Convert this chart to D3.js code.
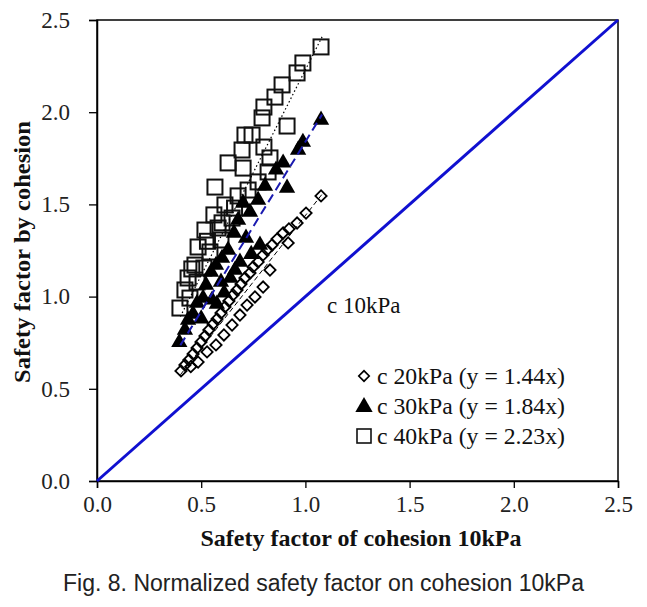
<!DOCTYPE html>
<html><head><meta charset="utf-8">
<script src="https://cdn.jsdelivr.net/npm/d3@7"></script>
<style>body{margin:0;background:#fff}svg{display:block}</style>
</head><body>
<svg id="c" width="647" height="607"></svg>
<script>
const xTicks = [0, 0.5, 1.0, 1.5, 2.0, 2.5];
const yTicks = [0, 0.5, 1.0, 1.5, 2.0, 2.5];
const seriesNames = ["c 20kPa (y = 1.44x)", "c 30kPa (y = 1.84x)", "c 40kPa (y = 2.23x)"];
const slopes = [1.44, 1.84, 2.23];
const fitRange = [0.40, 1.08];

const c20 = [
 [1.075,1.546],[1.003,1.453],[0.960,1.399],[0.921,1.367],[0.893,1.345],[0.864,1.312],[0.840,1.280],
 [0.816,1.253],[0.797,1.226],[0.773,1.188],[0.749,1.161],[0.734,1.128],[0.710,1.101],[0.691,1.068],
 [0.672,1.036],[0.653,1.009],[0.633,0.976],[0.614,0.944],[0.595,0.911],[0.576,0.879],[0.557,0.851],
 [0.537,0.819],[0.518,0.786],[0.499,0.754],[0.480,0.721],[0.461,0.689],[0.441,0.656],[0.422,0.629],
 [0.403,0.597],[0.917,1.291],[0.830,1.144],[0.797,1.052],[0.758,0.998],[0.720,0.954],[0.686,0.900],
 [0.648,0.846],[0.609,0.792],[0.571,0.738],[0.528,0.700],[0.485,0.645],[0.450,0.620]
];
const c30 = [
 [1.075,1.958],[0.988,1.838],[0.965,1.795],[0.893,1.725],[0.859,1.687],[0.912,1.589],[0.806,1.600],
 [0.773,1.524],[0.734,1.459],[0.701,1.508],[0.677,1.415],[0.715,1.318],[0.657,1.345],[0.629,1.253],
 [0.600,1.209],[0.571,1.171],[0.547,1.133],[0.595,1.079],[0.523,1.063],[0.509,0.992],[0.480,0.965],
 [0.552,0.982],[0.461,0.906],[0.437,0.873],[0.422,0.819],[0.395,0.752],[0.662,1.144],[0.686,1.188],
 [0.782,1.280],[0.640,1.100],[0.740,1.230],[0.610,1.020],[0.500,0.880],[0.575,0.960]
];
const c40 = [
 [1.075,2.354],[0.988,2.267],[0.960,2.213],[0.888,2.148],[0.854,2.082],[0.801,2.028],[0.792,1.969],
 [0.912,1.925],[0.744,1.876],[0.710,1.876],[0.696,1.795],[0.801,1.811],[0.629,1.725],[0.701,1.697],
 [0.830,1.752],[0.821,1.676],[0.773,1.622],[0.725,1.578],[0.566,1.594],[0.677,1.546],[0.614,1.497],
 [0.561,1.443],[0.648,1.426],[0.518,1.361],[0.581,1.372],[0.595,1.307],[0.485,1.269],[0.542,1.242],
 [0.470,1.171],[0.513,1.155],[0.437,1.101],[0.480,1.079],[0.422,1.036],[0.446,0.992],[0.398,0.938],
 [0.660,1.480],[0.600,1.400],[0.530,1.300],[0.455,1.150]
];

const svg = d3.select("#c");
const x = d3.scaleLinear().domain([0, 2.5]).range([97, 618]);
const y = d3.scaleLinear().domain([0, 2.5]).range([481, 20]);
const serif = "Liberation Serif, Times New Roman, serif";

// frame
svg.append("rect").attr("x", 97).attr("y", 20).attr("width", 521).attr("height", 461)
  .attr("fill", "none").attr("stroke", "#000").attr("stroke-width", 1.5);

const xa = svg.append("g").attr("transform", "translate(0,481)")
  .call(d3.axisBottom(x).tickValues(xTicks).tickFormat(d3.format(".1f")).tickSizeOuter(0).tickSize(7).tickPadding(8));
const ya = svg.append("g").attr("transform", "translate(97,0)")
  .call(d3.axisLeft(y).tickValues(yTicks).tickFormat(d3.format(".1f")).tickSizeOuter(0).tickSize(8).tickPadding(19));
[xa, ya].forEach(a => {
  a.attr("font-family", serif).attr("font-size", 23);
  a.select(".domain").attr("stroke", "#000").attr("stroke-width", 1.5);
  a.selectAll(".tick line").attr("stroke", "#000").attr("stroke-width", 1.3);
  a.selectAll("text").style("font-family", serif).style("font-size", "23px").attr("fill", "#222");
});

// 1:1 line
svg.append("line").attr("x1", x(0)).attr("y1", y(0)).attr("x2", x(2.5)).attr("y2", y(2.5))
  .attr("stroke", "#1010d0").attr("stroke-width", 3);

const diamond = d3.symbol().type(d3.symbolSquare).size(64);
const tri = d3.symbol().type(d3.symbolTriangle).size(115);

// c20 diamonds
svg.append("g").selectAll("path").data(c20).join("path")
  .attr("d", diamond).attr("transform", d => `translate(${x(d[0])},${y(d[1])}) rotate(45)`)
  .attr("fill", "none").attr("stroke", "#000").attr("stroke-width", 1.8);
// c40 squares
const sq = 15;
svg.append("g").selectAll("rect").data(c40).join("rect")
  .attr("x", d => x(d[0]) - sq/2).attr("y", d => y(d[1]) - sq/2).attr("width", sq).attr("height", sq)
  .attr("fill", "none").attr("stroke", "#111").attr("stroke-width", 2);
// c30 triangles
svg.append("g").selectAll("path").data(c30).join("path")
  .attr("d", tri).attr("transform", d => `translate(${x(d[0])},${y(d[1])})`)
  .attr("fill", "#000");

// fit lines
const fitStyles = [
  {stroke: "#000", dash: "5,3", w: 1},
  {stroke: "#1a1ab0", dash: "9,5", w: 2},
  {stroke: "#000", dash: "1.5,2.5", w: 1.2}
];
slopes.forEach((s, i) => {
  svg.append("line").attr("x1", x(fitRange[0])).attr("y1", y(s * fitRange[0]))
    .attr("x2", x(fitRange[1])).attr("y2", y(s * fitRange[1]))
    .attr("stroke", fitStyles[i].stroke).attr("stroke-width", fitStyles[i].w)
    .attr("stroke-dasharray", fitStyles[i].dash);
});

// labels
svg.append("text").attr("x", 327).attr("y", 313).style("font-family", serif).style("font-size", "23px")
  .attr("fill", "#111").text("c 10kPa");

const legY = [384, 414, 444];
seriesNames.forEach((n, i) => {
  svg.append("text").attr("x", 377).attr("y", legY[i]).style("font-family", serif).style("font-size", "23px")
    .attr("fill", "#111").attr("textLength", 188).attr("lengthAdjust", "spacingAndGlyphs").text(n);
});
svg.append("path").attr("d", d3.symbol().type(d3.symbolSquare).size(55)).attr("transform", `translate(364,${legY[0]-8}) rotate(45)`)
  .attr("fill", "none").attr("stroke", "#000").attr("stroke-width", 1.6);
svg.append("path").attr("d", d3.symbol().type(d3.symbolTriangle).size(130)).attr("transform", `translate(364,${legY[1]-7})`)
  .attr("fill", "#000");
svg.append("rect").attr("x", 357).attr("y", legY[2]-15).attr("width", 14).attr("height", 14)
  .attr("fill", "none").attr("stroke", "#111").attr("stroke-width", 1.6);

svg.append("text").attr("transform", "translate(30,252) rotate(-90)").attr("text-anchor", "middle")
  .style("font-family", serif).style("font-weight", "bold").style("font-size", "23px").attr("fill", "#111")
  .attr("textLength", 262).attr("lengthAdjust", "spacingAndGlyphs")
  .text("Safety factor by cohesion");
svg.append("text").attr("x", 361).attr("y", 546).attr("text-anchor", "middle")
  .style("font-family", serif).style("font-weight", "bold").style("font-size", "23px").attr("fill", "#111")
  .attr("textLength", 321).attr("lengthAdjust", "spacingAndGlyphs")
  .text("Safety factor of cohesion 10kPa");
svg.append("text").attr("x", 63).attr("y", 591)
  .style("font-family", "Liberation Sans, Arial, sans-serif").style("font-size", "23px").attr("fill", "#222")
  .attr("textLength", 521).attr("lengthAdjust", "spacingAndGlyphs")
  .text("Fig. 8. Normalized safety factor on cohesion 10kPa");
</script>
</body></html>
